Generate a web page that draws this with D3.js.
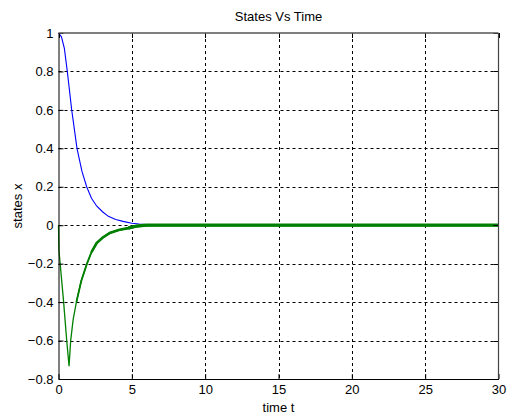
<!DOCTYPE html>
<html>
<head>
<meta charset="utf-8">
<script src="https://d3js.org/d3.v7.min.js"></script>
<style>
  body { margin: 0; padding: 0; background: #fff; }
  svg text { font-family: Arial, "Liberation Sans", sans-serif; font-size: 13px; fill: #000; }
</style>
</head>
<body>
<div id="chart"></div>
<script>
// Values
const blueTime = [0, 0.2, 0.4, 0.6, 0.9, 1.26, 1.6, 1.92, 2.25, 2.6, 3.0, 3.4, 3.9, 4.4, 5.0, 5.5, 6.0];
const blueState = [1, 0.98, 0.92, 0.8, 0.6, 0.4, 0.28, 0.2, 0.14, 0.1, 0.07, 0.046, 0.03, 0.02, 0.01, 0.006, 0.004];

const greenTime = [0, 0.03, 0.35, 0.56, 0.72, 0.83, 1.0, 1.22, 1.55, 1.94, 2.25, 2.6, 3.0, 3.5, 4.1, 4.75, 5.3, 6.0, 30];
const greenState = [0, -0.13, -0.4, -0.6, -0.733, -0.6, -0.49, -0.4, -0.29, -0.2, -0.14, -0.093, -0.065, -0.04, -0.025, -0.015, -0.005, 0, 0];

const xTicks = [0, 5, 10, 15, 20, 25, 30];
const yTicks = [-0.8, -0.6, -0.4, -0.2, 0, 0.2, 0.4, 0.6, 0.8, 1];

const width = 507, height = 416;
const margin = { left: 58.5, right: 8.5, top: 33, bottom: 37 };

const svg = d3.select("#chart").append("svg")
    .attr("width", width)
    .attr("height", height);

const x = d3.scaleLinear().domain([0, 30]).range([margin.left, width - margin.right]);
const y = d3.scaleLinear().domain([-0.8, 1]).range([height - margin.bottom, margin.top]);

// dashed grid
svg.append("g").selectAll("line")
    .data(xTicks.slice(1, -1))
    .enter().append("line")
    .attr("x1", d => Math.round(x(d)) + 0.5).attr("x2", d => Math.round(x(d)) + 0.5)
    .attr("y1", y(1)).attr("y2", y(-0.8))
    .attr("stroke", "#000").attr("stroke-dasharray", "3,3");

svg.append("g").selectAll("line")
    .data(yTicks.slice(1, -1))
    .enter().append("line")
    .attr("x1", x(0)).attr("x2", x(30))
    .attr("y1", d => Math.round(y(d)) + 0.5).attr("y2", d => Math.round(y(d)) + 0.5)
    .attr("stroke", "#000").attr("stroke-dasharray", "3,3");

// curves
const line = (t, v) => d3.line()
    .x((d, i) => x(t[i]))
    .y(d => y(d))(v);

svg.append("path")
    .attr("d", line(blueTime, blueState))
    .attr("fill", "none").attr("stroke", "#0000ff").attr("stroke-width", 1.1);

svg.append("path")
    .attr("d", line(greenTime, greenState))
    .attr("fill", "none").attr("stroke", "#008000").attr("stroke-width", 1.3);

// the dense marker part of the green state looks thicker
const thickFrom = 7;
svg.append("path")
    .attr("d", line(greenTime.slice(thickFrom), greenState.slice(thickFrom)))
    .attr("fill", "none").attr("stroke", "#008000").attr("stroke-width", 1.8);
const thickerFrom = 10;
svg.append("path")
    .attr("d", line(greenTime.slice(thickerFrom), greenState.slice(thickerFrom)))
    .attr("fill", "none").attr("stroke", "#008000").attr("stroke-width", 2.6);
const thickestFrom = 15;
svg.append("path")
    .attr("d", line(greenTime.slice(thickestFrom), greenState.slice(thickestFrom)))
    .attr("fill", "none").attr("stroke", "#008000").attr("stroke-width", 3.2);

// axes with inward ticks
const xAxis = d3.axisBottom(x).tickValues(xTicks).tickSizeInner(-5).tickSizeOuter(0).tickPadding(6);
const yAxis = d3.axisLeft(y).tickValues(yTicks).tickSizeInner(-5).tickSizeOuter(0).tickPadding(5)
    .tickFormat(d3.format("~g"));

const gx = svg.append("g").attr("transform", `translate(0,${y(-0.8)})`).call(xAxis);
const gy = svg.append("g").attr("transform", `translate(${x(0)},0)`).call(yAxis);
[gx, gy].forEach(g => {
  g.selectAll("text").style("font-size", "13px").style("font-family", "Arial, 'Liberation Sans', sans-serif");
  g.select(".domain").attr("stroke", "#000");
});

// top and right ticks
svg.append("g").selectAll("line").data(xTicks).enter().append("line")
    .attr("x1", d => Math.round(x(d)) + 0.5).attr("x2", d => Math.round(x(d)) + 0.5)
    .attr("y1", y(1)).attr("y2", y(1) + 5).attr("stroke", "#000");
svg.append("g").selectAll("line").data(yTicks).enter().append("line")
    .attr("x1", x(30) - 5).attr("x2", x(30))
    .attr("y1", d => Math.round(y(d)) + 0.5).attr("y2", d => Math.round(y(d)) + 0.5).attr("stroke", "#000");

// box top and right
svg.append("line").attr("x1", x(0)).attr("x2", x(30)).attr("y1", y(1)).attr("y2", y(1))
    .attr("stroke", "#555").attr("stroke-width", 1.5);
svg.append("line").attr("x1", x(30)).attr("x2", x(30)).attr("y1", y(1)).attr("y2", y(-0.8))
    .attr("stroke", "#444").attr("stroke-width", 1.2);

// labels
svg.append("text").attr("x", (x(0) + x(30)) / 2).attr("y", 21)
    .attr("text-anchor", "middle").text("States Vs Time");
svg.append("text").attr("x", (x(0) + x(30)) / 2).attr("y", 412)
    .attr("text-anchor", "middle").text("time t");
svg.append("text")
    .attr("transform", `translate(22,${(y(1) + y(-0.8)) / 2}) rotate(-90)`)
    .attr("text-anchor", "middle").text("states x");
</script>
</body>
</html>
